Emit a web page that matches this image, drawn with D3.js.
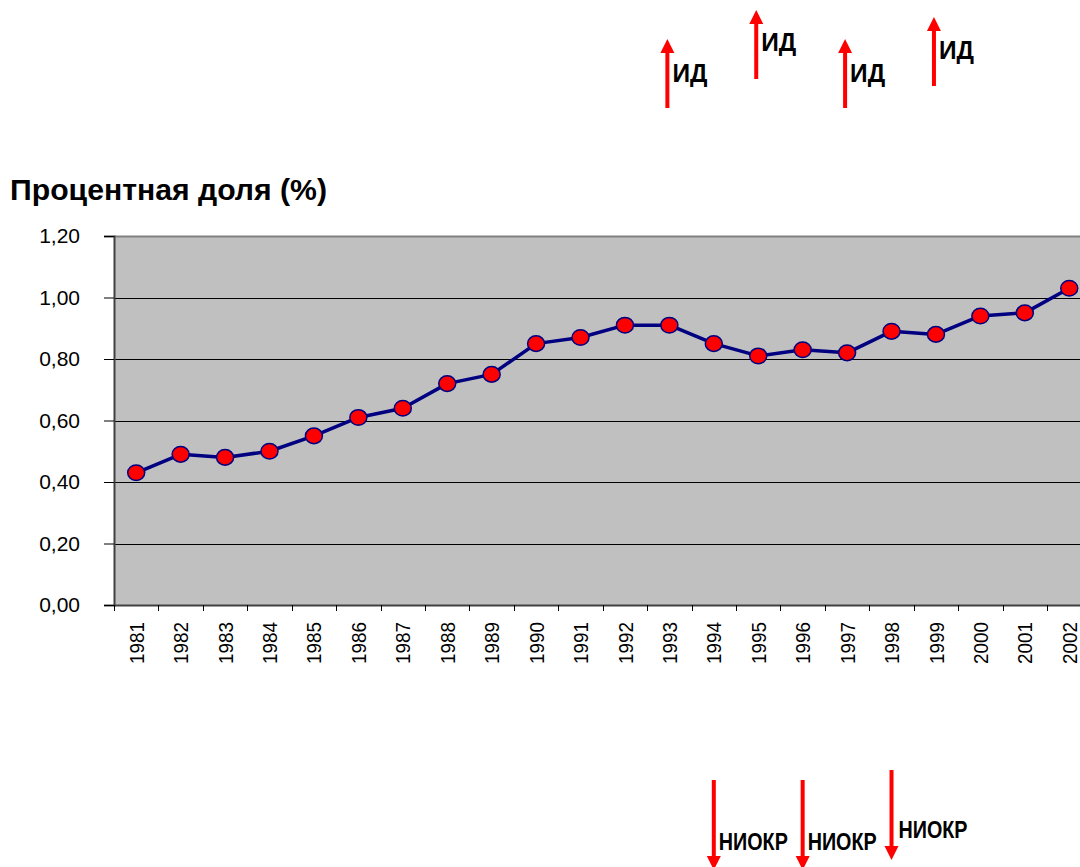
<!DOCTYPE html>
<html lang="ru">
<head>
<meta charset="utf-8">
<title>Процентная доля</title>
<style>
    body { margin: 0; background: #fff; font-family: "Liberation Sans", Arial, sans-serif; }
    svg { display: block; }
    .grid line { stroke: #000; stroke-width: 1px; }
    .tick-label { font-size: 21px; fill: #000; }
    .year-label { font-size: 21px; fill: #000; }
    .note { font-weight: bold; fill: #000; }
</style>
<script src="https://cdn.jsdelivr.net/npm/d3@7"></script>
</head>
<body>
<div id="chart"></div>
<script>
// data
var years = [1981, 1982, 1983, 1984, 1985, 1986, 1987, 1988, 1989, 1990, 1991,
             1992, 1993, 1994, 1995, 1996, 1997, 1998, 1999, 2000, 2001, 2002];
var share = [0.43, 0.49, 0.48, 0.50, 0.55, 0.61, 0.64, 0.72, 0.75, 0.85, 0.87,
             0.91, 0.91, 0.85, 0.81, 0.83, 0.82, 0.89, 0.88, 0.94, 0.95, 1.03];
var yTicks = [0, 0.2, 0.4, 0.6, 0.8, 1.0, 1.2];
var idYears = [1993, 1995, 1997, 1999];      // "ИД" up arrows
var niokrYears = [1994, 1996, 1998];         // "НИОКР" down arrows
var titleText = "Процентная доля (%)";

// layout
var W = 1080, H = 867;
var plot = { left: 114, top: 236, bottom: 605, band: 44.43 };
// vertical placement of the arrows (tip / tail) and labels
var idLayout = [ {tip: 39, tail: 108, base: 82}, {tip: 10, tail: 79, base: 51},
                 {tip: 39, tail: 108, base: 82}, {tip: 17, tail: 86, base: 59} ];
var niokrLayout = [ {tail: 780, tip: 870, base: 850}, {tail: 780, tip: 870, base: 850},
                    {tail: 770, tip: 860, base: 838} ];

var svg = d3.select("#chart").append("svg")
    .attr("width", W)
    .attr("height", H);

var x = d3.scaleBand()
    .domain(years)
    .range([plot.left, plot.left + plot.band * years.length]);
var y = d3.scaleLinear()
    .domain([0, 1.2])
    .range([plot.bottom, plot.top]);
var cx = function(yr) { return x(yr) + x.bandwidth() / 2; };

// plot area
svg.append("rect")
    .attr("x", plot.left)
    .attr("y", plot.top)
    .attr("width", x.range()[1] - plot.left)
    .attr("height", plot.bottom - plot.top)
    .attr("fill", "#c0c0c0");

// gridlines
svg.append("g").attr("class", "grid")
    .selectAll("line")
    .data(yTicks.filter(function(d) { return d > 0 && d < 1.2; }))
    .enter().append("line")
    .attr("x1", plot.left).attr("x2", x.range()[1])
    .attr("y1", function(d) { return Math.round(y(d)) + 0.5; })
    .attr("y2", function(d) { return Math.round(y(d)) + 0.5; });

// top border
svg.append("line")
    .attr("x1", plot.left).attr("x2", x.range()[1])
    .attr("y1", plot.top + 0.5).attr("y2", plot.top + 0.5)
    .attr("stroke", "#808080").attr("stroke-width", 2);

// y axis
var yAxis = svg.append("g")
    .attr("transform", "translate(" + plot.left + ",0)")
    .call(d3.axisLeft(y).tickValues(yTicks).tickSize(10).tickPadding(24)
        .tickFormat(function(d) { return d3.format(".2f")(d).replace(".", ","); }));
yAxis.select(".domain").attr("stroke", "#404040").attr("stroke-width", 2);
yAxis.selectAll(".tick line").attr("stroke", "#000");
yAxis.selectAll("text")
    .attr("class", "tick-label")
    .attr("font-family", null).attr("font-size", null);

// x axis line and ticks at category boundaries
svg.append("line")
    .attr("x1", plot.left).attr("x2", x.range()[1])
    .attr("y1", plot.bottom + 0.5).attr("y2", plot.bottom + 0.5)
    .attr("stroke", "#404040").attr("stroke-width", 2);
svg.append("g").selectAll("line")
    .data(years)
    .enter().append("line")
    .attr("x1", function(d) { return Math.round(x(d)) + 0.5; })
    .attr("x2", function(d) { return Math.round(x(d)) + 0.5; })
    .attr("y1", plot.bottom).attr("y2", plot.bottom + 6)
    .attr("stroke", "#000");

svg.append("g").selectAll("text")
    .data(years)
    .enter().append("text")
    .attr("class", "year-label")
    .attr("transform", function(d) { return "translate(" + cx(d) + "," + (plot.bottom + 17) + ") rotate(-90)"; })
    .attr("text-anchor", "end")
    .attr("dy", "0.36em")
    .attr("textLength", 42)
    .attr("lengthAdjust", "spacingAndGlyphs")
    .text(function(d) { return d; });

// series line
var line = d3.line()
    .x(function(d, i) { return cx(years[i]); })
    .y(function(d) { return y(d); });

svg.append("path")
    .datum(share)
    .attr("fill", "none")
    .attr("stroke", "#000080")
    .attr("stroke-width", 3.5)
    .attr("stroke-linejoin", "round")
    .attr("d", line);

svg.append("g").selectAll("ellipse")
    .data(share)
    .enter().append("ellipse")
    .attr("cx", function(d, i) { return cx(years[i]); })
    .attr("cy", function(d) { return y(d); })
    .attr("rx", 8.5)
    .attr("ry", 7.8)
    .attr("fill", "#ff0000")
    .attr("stroke", "#000080")
    .attr("stroke-width", 1.5);

// title
svg.append("text")
    .attr("x", 10)
    .attr("y", 200)
    .attr("font-size", 29)
    .attr("font-weight", "bold")
    .attr("textLength", 317)
    .attr("lengthAdjust", "spacingAndGlyphs")
    .text(titleText);

// arrows
function arrow(g, xPos, from, to) {
    var dir = to < from ? -1 : 1, head = 14;
    g.append("line")
        .attr("x1", xPos).attr("x2", xPos)
        .attr("y1", from).attr("y2", to - dir * head)
        .attr("stroke", "#ff0000").attr("stroke-width", 4);
    g.append("path")
        .attr("d", "M" + (xPos - 7) + "," + (to - dir * head) + "L" + (xPos + 7) + "," + (to - dir * head) + "L" + xPos + "," + to + "Z")
        .attr("fill", "#ff0000");
}

var notes = svg.append("g");
idYears.forEach(function(yr, i) {
    var L = idLayout[i], xp = cx(yr) - 2;
    arrow(notes, xp, L.tail, L.tip);
    notes.append("text")
        .attr("class", "note")
        .attr("x", xp + 5)
        .attr("y", L.base)
        .attr("font-size", 25)
        .attr("textLength", 35)
        .attr("lengthAdjust", "spacingAndGlyphs")
        .text("ИД");
});
niokrYears.forEach(function(yr, i) {
    var L = niokrLayout[i], xp = cx(yr);
    arrow(notes, xp, L.tail, L.tip);
    notes.append("text")
        .attr("class", "note")
        .attr("x", xp + 5 + (i === 2 ? 2 : 0))
        .attr("y", L.base)
        .attr("font-size", 23)
        .attr("textLength", 69)
        .attr("lengthAdjust", "spacingAndGlyphs")
        .text("НИОКР");
});
</script>
</body>
</html>
